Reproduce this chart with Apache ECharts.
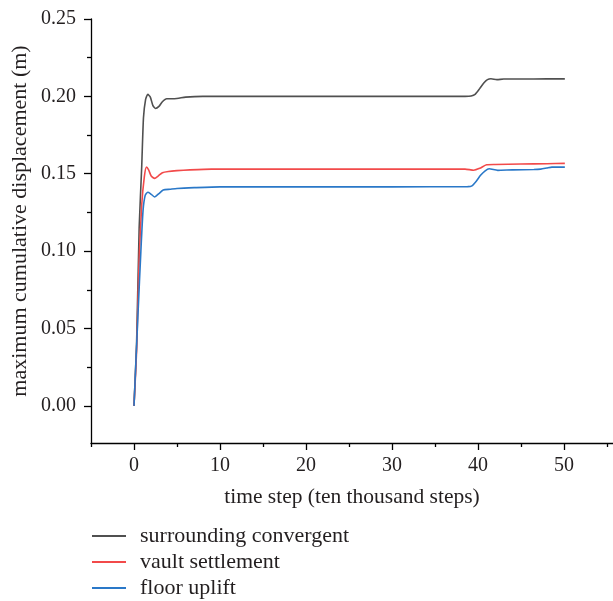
<!DOCTYPE html>
<html>
	<head>
		<meta charset="utf-8">
		<title></title>
		<script src="https://cdn.jsdelivr.net/npm/echarts@6/dist/echarts.min.js"></script>
	</head>
	<body style="margin: 0;">
		<div id="main" style="width: 613px; height: 601px;"></div>
		<script type="text/javascript">
			// time step (ten thousand steps) and displacement (m)
			var convergentT = [0, 0.3, 0.6, 0.9, 1.1, 1.35, 1.6, 1.9, 2.2, 2.5, 2.9, 3.3, 3.8, 4.7, 6, 8, 12, 20, 30, 38.5, 39.2, 39.7, 40.2, 40.7, 41.1, 41.5, 42.2, 43, 45, 48, 50.1];
			var convergentV = [0, 0.04, 0.115, 0.155, 0.186, 0.198, 0.2013, 0.1995, 0.194, 0.1922, 0.1935, 0.1965, 0.1985, 0.1985, 0.1995, 0.2, 0.2, 0.2, 0.2, 0.2, 0.2002, 0.2015, 0.205, 0.2088, 0.2108, 0.2114, 0.2108, 0.2112, 0.2112, 0.2113, 0.2113];

			var vaultT = [0, 0.3, 0.6, 0.9, 1.2, 1.45, 1.7, 2.0, 2.4, 2.8, 3.3, 4, 5, 6.5, 9, 20, 30, 38.5, 39.5, 40.2, 41, 42, 45, 48, 50.1];
			var vaultV = [0, 0.035, 0.095, 0.13, 0.148, 0.1543, 0.1525, 0.1485, 0.147, 0.1485, 0.1507, 0.1515, 0.152, 0.1525, 0.153, 0.153, 0.153, 0.153, 0.1523, 0.1535, 0.1558, 0.156, 0.1563, 0.1565, 0.1567];

			var floorT = [0, 0.47, 0.8, 1.05, 1.3, 1.6, 1.9, 2.4, 2.9, 3.4, 4.2, 5, 7, 10, 20, 30, 38.8, 39.3, 39.8, 40.3, 40.8, 41.3, 42.3, 44, 46.5, 47.3, 48, 48.6, 50.1];
			var floorV = [0, 0.06, 0.1, 0.126, 0.136, 0.138, 0.1372, 0.135, 0.1372, 0.1395, 0.14, 0.1405, 0.141, 0.1415, 0.1415, 0.1415, 0.1417, 0.1422, 0.1452, 0.149, 0.1517, 0.1532, 0.1522, 0.1525, 0.1527, 0.153, 0.1537, 0.1543, 0.1543];

			var xMajor = [0, 10, 20, 30, 40, 50];
			var xMinor = [-5, 5, 15, 25, 35, 45, 55];
			var yMajor = [0, 0.05, 0.1, 0.15, 0.2, 0.25];
			var yMinor = [0.025, 0.075, 0.125, 0.175, 0.225];

			function pairs(t, v) {
				return t.map(function (x, i) { return [x, v[i]]; });
			}

			var font = 'Liberation Serif';
			var ink = '#231f20';

			var myChart = echarts.init(document.getElementById("main"));
			option = {
				animation: false,
				grid: { left: 91, right: 0, top: 19, bottom: 158, outerBoundsMode: 'none', containLabel: false },
				legend: {
					orient: 'vertical',
					left: 92,
					top: 525,
					padding: 0,
					itemWidth: 34,
					itemHeight: 2,
					itemGap: 4,
					icon: 'rect',
					textStyle: { fontFamily: font, fontSize: 22, color: ink, lineHeight: 22, padding: [0, 0, 0, 9] },
					data: ['surrounding convergent', 'vault settlement', 'floor uplift']
				},
				xAxis: [
					{
						type: 'value', min: -5, max: 55.7,
						name: 'time step (ten thousand steps)',
						nameLocation: 'middle', nameGap: 43, nameMoveOverlap: false,
						nameTextStyle: { fontFamily: font, fontSize: 21.5, color: ink },
						axisLine: { onZero: false, lineStyle: { color: '#000', width: 1.3 } },
						axisTick: { customValues: xMajor, length: 7, lineStyle: { color: '#000', width: 1.3 } },
						axisLabel: { customValues: xMajor, margin: 13, fontFamily: font, fontSize: 20, color: ink },
						splitLine: { show: false }
					},
					{
						type: 'value', min: -5, max: 55.7, position: 'bottom',
						axisLine: { show: false, onZero: false },
						axisTick: { customValues: xMinor, length: 4, lineStyle: { color: '#000', width: 1.3 } },
						axisLabel: { show: false },
						splitLine: { show: false }
					}
				],
				yAxis: [
					{
						type: 'value', min: -0.024, max: 0.25,
						name: 'maximum cumulative displacement (m)',
						nameLocation: 'middle', nameGap: 60, nameMoveOverlap: false,
						nameTextStyle: { fontFamily: font, fontSize: 22, color: ink, padding: [0, 0, 0, 20] },
						axisLine: { show: true, onZero: false, lineStyle: { color: '#000', width: 1.3 } },
						axisTick: { show: true, customValues: yMajor, length: 7, lineStyle: { color: '#000', width: 1.3 } },
						axisLabel: {
							customValues: yMajor, margin: 15, fontFamily: font, fontSize: 20, color: ink,
							formatter: function (v) { return v.toFixed(2); }
						},
						splitLine: { show: false }
					},
					{
						type: 'value', min: -0.024, max: 0.25, position: 'left',
						axisLine: { show: false, onZero: false },
						axisTick: { show: true, customValues: yMinor, length: 4, lineStyle: { color: '#000', width: 1.3 } },
						axisLabel: { show: false },
						splitLine: { show: false }
					}
				],
				series: [
					{
						name: 'surrounding convergent', type: 'line', showSymbol: false, smooth: 0.2,
						color: '#505050', lineStyle: { width: 1.6 },
						data: pairs(convergentT, convergentV)
					},
					{
						name: 'vault settlement', type: 'line', showSymbol: false, smooth: 0.2,
						color: '#f24a4a', lineStyle: { width: 1.6 },
						data: pairs(vaultT, vaultV)
					},
					{
						name: 'floor uplift', type: 'line', showSymbol: false, smooth: 0.2,
						color: '#2a78c8', lineStyle: { width: 1.6 },
						data: pairs(floorT, floorV)
					}
				]
			};
			myChart.setOption(option);
		</script>
	</body>
</html>
